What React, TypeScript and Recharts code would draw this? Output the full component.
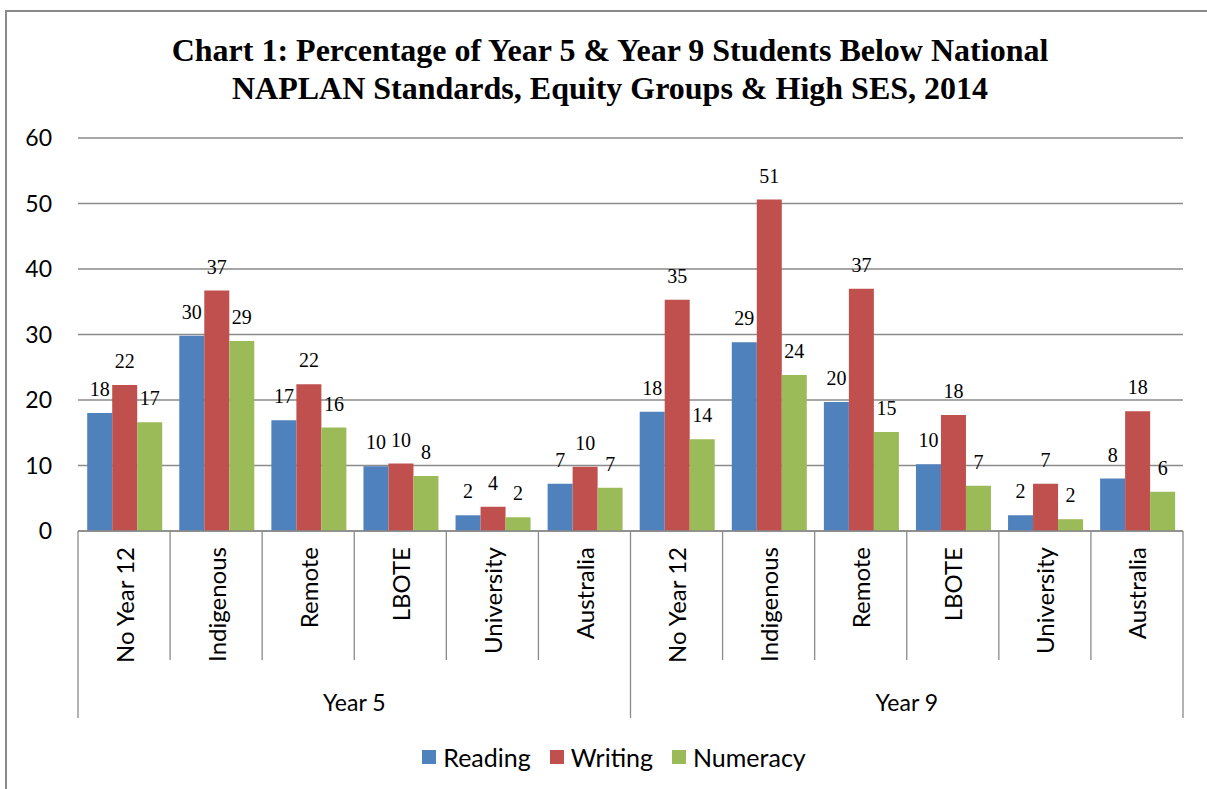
import { BarChart, Bar, XAxis, YAxis, CartesianGrid, LabelList, Legend } from 'recharts';

// NAPLAN: share of students below the national minimum standard, 2014
const groups = ['Year 5', 'Year 9'];
const categories = ['No Year 12', 'Indigenous', 'Remote', 'LBOTE', 'University', 'Australia'];
const seriesNames = ['Reading', 'Writing', 'Numeracy'];
const reading = [18.0, 29.8, 16.9, 9.9, 2.4, 7.2, 18.2, 28.8, 19.7, 10.2, 2.4, 8.0];
const writing = [22.3, 36.7, 22.4, 10.3, 3.7, 9.8, 35.3, 50.6, 37.0, 17.7, 7.2, 18.3];
const numeracy = [16.6, 29.0, 15.8, 8.4, 2.1, 6.6, 14.0, 23.8, 15.1, 6.9, 1.8, 6.0];
const yTicks = [0, 10, 20, 30, 40, 50, 60];

const data = groups.flatMap((group, gi) =>
  categories.map((cat, ci) => ({
    group,
    cat,
    Reading: reading[gi * categories.length + ci],
    Writing: writing[gi * categories.length + ci],
    Numeracy: numeracy[gi * categories.length + ci],
  }))
);

const W = 1207;
const H = 789;
const PLOT_LEFT = 78;
const PLOT_RIGHT = 1183;
const BAND = (PLOT_RIGHT - PLOT_LEFT) / data.length;
const GROUP_BAND = (PLOT_RIGHT - PLOT_LEFT) / groups.length;
const CAT_AXIS_H = 129;
const GROUP_AXIS_H = 58;
const GREY = '#8a8a8a';
const SANS = 'Lato, "Liberation Sans", sans-serif';
const SERIF = '"Liberation Serif", "Times New Roman", serif';

const CategoryTick = (props: any) => {
  const { x, y, payload } = props;
  const index = props.index ?? payload.index;
  const ty = y + 16;
  return (
    <g>
      <line x1={x - BAND / 2} y1={y} x2={x - BAND / 2} y2={y + CAT_AXIS_H} stroke={GREY} strokeWidth={1.3} />
      {index === data.length - 1 && (
        <line x1={x + BAND / 2} y1={y} x2={x + BAND / 2} y2={y + CAT_AXIS_H} stroke={GREY} strokeWidth={1.3} />
      )}
      <text
        x={x}
        y={ty}
        transform={`rotate(-90, ${x}, ${ty})`}
        textAnchor="end"
        dominantBaseline="central"
        fontFamily={SANS}
        fontSize={24}
        fill="#000"
      >
        {payload.value}
      </text>
    </g>
  );
};

const GroupTick = (props: any) => {
  const { x, y, payload } = props;
  const index = props.index ?? payload.index;
  return (
    <g>
      <line x1={x - GROUP_BAND / 2} y1={y} x2={x - GROUP_BAND / 2} y2={y + GROUP_AXIS_H} stroke={GREY} strokeWidth={1.3} />
      {index === groups.length - 1 && (
        <line x1={x + GROUP_BAND / 2} y1={y} x2={x + GROUP_BAND / 2} y2={y + GROUP_AXIS_H} stroke={GREY} strokeWidth={1.3} />
      )}
      <text x={x} y={y + 42} textAnchor="middle" dominantBaseline="central" fontFamily={SANS} fontSize={23} fill="#000">
        {payload.value}
      </text>
    </g>
  );
};

const LegendRow = (props: any) => {
  const items = [...(props.payload || [])].sort(
    (a: any, b: any) => seriesNames.indexOf(a.value) - seriesNames.indexOf(b.value)
  );
  return (
    <div
      style={{
        height: 50,
        display: 'flex',
        justifyContent: 'center',
        alignItems: 'flex-start',
        paddingLeft: 45,
        boxSizing: 'border-box',
      }}
    >
      <div style={{ marginTop: 28, height: 22, display: 'flex', alignItems: 'center', gap: 19 }}>
        {items.map((item: any) => (
          <div key={item.value} style={{ display: 'flex', alignItems: 'center', gap: 7 }}>
            <span style={{ width: 14, height: 14, background: item.color, display: 'inline-block' }} />
            <span style={{ fontFamily: SANS, fontSize: 25, color: '#000', lineHeight: '22px' }}>{item.value}</span>
          </div>
        ))}
      </div>
    </div>
  );
};

const labelStyle = { fontFamily: SERIF, fontSize: 20, fill: '#000' };
const roundLabel = (v: any) => Math.round(Number(v));

export default function App() {
  return (
    <div style={{ position: 'fixed', left: 0, top: 0, width: W, height: H, overflow: 'hidden', background: '#fff' }}>
      <style>{'html, body { margin: 0; overflow: hidden; }'}</style>
      {/* outer frame: only the top and left edges fall inside the page */}
      <div
        style={{
          position: 'absolute',
          left: 5,
          top: 10,
          width: W - 5,
          height: H - 10,
          borderTop: `2px solid ${GREY}`,
          borderLeft: `2px solid ${GREY}`,
          boxSizing: 'border-box',
        }}
      />
      <div
        style={{
          position: 'absolute',
          left: 0,
          top: 31,
          width: W,
          paddingLeft: 13,
          boxSizing: 'border-box',
          textAlign: 'center',
          fontFamily: SERIF,
          fontWeight: 'bold',
          fontSize: 32,
          lineHeight: '38px',
          color: '#000',
        }}
      >
        Chart 1: Percentage of Year 5 &amp; Year 9 Students Below National
        <br />
        NAPLAN Standards, Equity Groups &amp; High SES, 2014
      </div>
      <div style={{ position: 'absolute', left: 0, top: 0 }}>
        <BarChart
          width={W}
          height={H}
          data={data}
          margin={{ top: 138, right: W - PLOT_RIGHT, bottom: 21, left: 0 }}
          barCategoryGap="10%"
          barGap={0}
        >
          <CartesianGrid vertical={false} stroke={GREY} strokeWidth={1.3} />
          <XAxis
            dataKey="cat"
            interval={0}
            height={CAT_AXIS_H}
            axisLine={{ stroke: GREY, strokeWidth: 1.3 }}
            tickLine={false}
            tickSize={0}
            tickMargin={0}
            tick={CategoryTick}
          />
          <XAxis
            xAxisId="group"
            dataKey="group"
            allowDuplicatedCategory={false}
            interval={0}
            height={GROUP_AXIS_H}
            axisLine={false}
            tickLine={false}
            tickSize={0}
            tickMargin={0}
            tick={GroupTick}
          />
          <YAxis
            width={PLOT_LEFT}
            domain={[0, 60]}
            ticks={yTicks}
            axisLine={false}
            tickLine={false}
            tickSize={0}
            tickMargin={26}
            tick={{ fontFamily: SANS, fontSize: 23, fill: '#000' }}
          />
          <Legend verticalAlign="bottom" height={50} content={LegendRow} />
          <Bar dataKey="Reading" fill="#4F81BD" isAnimationActive={false}>
            <LabelList dataKey="Reading" position="top" offset={17} formatter={roundLabel} style={labelStyle} />
          </Bar>
          <Bar dataKey="Writing" fill="#C0504D" isAnimationActive={false}>
            <LabelList dataKey="Writing" position="top" offset={17} formatter={roundLabel} style={labelStyle} />
          </Bar>
          <Bar dataKey="Numeracy" fill="#9BBB59" isAnimationActive={false}>
            <LabelList dataKey="Numeracy" position="top" offset={17} formatter={roundLabel} style={labelStyle} />
          </Bar>
        </BarChart>
      </div>
    </div>
  );
}
